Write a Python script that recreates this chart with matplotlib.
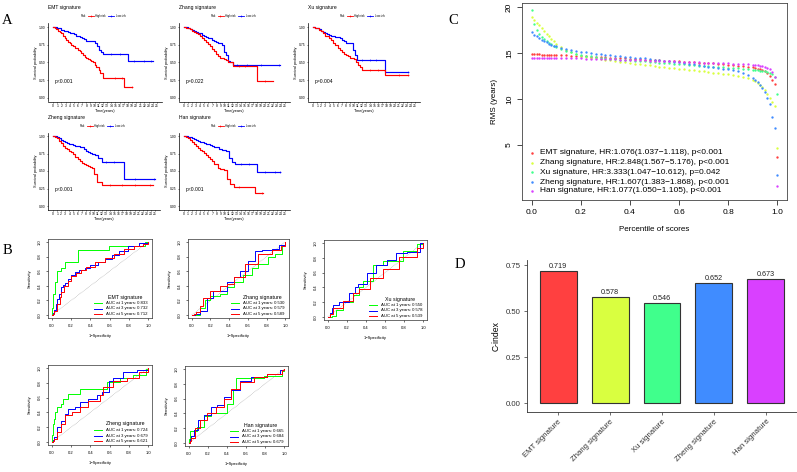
import matplotlib
matplotlib.use("Agg")
import matplotlib.pyplot as plt
from matplotlib.lines import Line2D

plt.rcParams['font.family'] = ['Liberation Sans', 'DejaVu Sans']
plt.rcParams['axes.linewidth'] = 0.5

# ---------------- DATA ----------------
# Panel A: Kaplan-Meier step curves (time in years, survival probability)
emt_hi_t = [0, 0.4, 0.8, 1.2, 1.6, 2.0, 2.4, 2.8, 3.2, 3.6, 4.0, 4.4, 4.8, 5.2, 5.6, 6.0, 6.4, 6.8, 7.2, 7.6, 8.0, 8.4, 8.8, 9.2, 9.6, 10.0, 10.4, 11.0, 11.4, 12.0, 17.2, 19.0]
emt_hi_s = [1.0, 0.99, 0.97, 0.95, 0.93, 0.91, 0.88, 0.85, 0.82, 0.79, 0.77, 0.75, 0.73, 0.71, 0.70, 0.68, 0.66, 0.64, 0.61, 0.58, 0.56, 0.555, 0.54, 0.52, 0.50, 0.47, 0.44, 0.40, 0.35, 0.28, 0.15, 0.15]
emt_lo_t = [0, 0.5, 1, 1.5, 2, 2.5, 3, 3.5, 4, 4.5, 5, 5.5, 6, 6.5, 7, 7.5, 8, 8.5, 9, 9.5, 10, 10.5, 11, 11.5, 12, 18, 24]
emt_lo_s = [1.0, 0.995, 0.99, 0.98, 0.96, 0.95, 0.94, 0.93, 0.92, 0.91, 0.90, 0.88, 0.87, 0.86, 0.84, 0.83, 0.81, 0.81, 0.80, 0.80, 0.78, 0.73, 0.68, 0.65, 0.62, 0.52, 0.52]
emt_hi_cens = [(15, 0.28), (16.5, 0.28), (19, 0.15)]
emt_lo_cens = [(14, 0.62), (16, 0.62), (19.5, 0.52), (22, 0.52), (23.5, 0.52)]

zhang_hi_t = [0, 0.5, 1, 1.5, 2, 2.5, 3, 3.5, 4, 4.5, 5, 5.5, 6, 6.5, 7, 7.5, 8, 8.5, 9, 9.5, 10, 10.5, 11, 11.5, 12.2, 18, 22]
zhang_hi_s = [1, 0.99, 0.98, 0.97, 0.95, 0.93, 0.91, 0.90, 0.88, 0.85, 0.82, 0.79, 0.76, 0.73, 0.69, 0.66, 0.62, 0.59, 0.57, 0.56, 0.55, 0.53, 0.50, 0.50, 0.45, 0.24, 0.24]
zhang_lo_t = [0, 0.5, 1, 1.5, 2, 2.5, 3, 3.5, 4, 4.5, 5, 5.5, 6, 6.5, 7, 7.5, 8, 8.5, 9, 9.5, 10, 10.5, 11, 11.5, 12.2, 23.8]
zhang_lo_s = [1, 0.995, 0.99, 0.97, 0.96, 0.94, 0.93, 0.92, 0.91, 0.89, 0.88, 0.86, 0.85, 0.84, 0.82, 0.81, 0.79, 0.77, 0.77, 0.74, 0.65, 0.60, 0.52, 0.50, 0.47, 0.47]
zhang_hi_cens = [(13.5, 0.45), (15, 0.45), (20, 0.24)]
zhang_lo_cens = [(13, 0.47), (15.5, 0.47), (19, 0.47), (23.5, 0.47)]

xu_hi_t = [0, 0.5, 1, 1.5, 2, 2.5, 3, 3.5, 4, 4.5, 5, 5.5, 6, 6.5, 7, 7.5, 8, 8.5, 9, 9.5, 10, 10.5, 11, 11.5, 12.1, 17.7, 23.4]
xu_hi_s = [1, 0.99, 0.98, 0.96, 0.94, 0.91, 0.88, 0.87, 0.85, 0.82, 0.78, 0.74, 0.71, 0.68, 0.65, 0.62, 0.60, 0.59, 0.57, 0.56, 0.55, 0.51, 0.47, 0.44, 0.39, 0.32, 0.32]
xu_lo_t = [0, 0.5, 1, 1.5, 2, 2.5, 3, 3.5, 4, 4.5, 5, 5.5, 6, 6.5, 7, 7.5, 8, 8.5, 9, 9.7, 10.3, 10.9, 17.7, 23.4]
xu_lo_s = [1, 0.99, 0.98, 0.97, 0.95, 0.93, 0.92, 0.90, 0.89, 0.88, 0.87, 0.86, 0.86, 0.84, 0.82, 0.80, 0.78, 0.77, 0.77, 0.68, 0.61, 0.54, 0.36, 0.36]
xu_hi_cens = [(14, 0.39), (16, 0.39), (21, 0.32), (23.4, 0.32)]
xu_lo_cens = [(12, 0.54), (14, 0.54), (15.5, 0.54), (23.4, 0.36)]

zheng_hi_t = [0, 0.5, 1, 1.5, 2, 2.5, 3, 3.5, 4, 4.5, 5, 5.5, 6, 6.5, 7, 7.5, 8, 8.5, 9, 9.5, 10, 10.7, 11.9, 24.6]
zheng_hi_s = [1, 0.99, 0.97, 0.93, 0.90, 0.86, 0.83, 0.81, 0.79, 0.77, 0.74, 0.70, 0.67, 0.64, 0.62, 0.60, 0.58, 0.57, 0.56, 0.54, 0.46, 0.345, 0.30, 0.30]
zheng_lo_t = [0, 0.5, 1, 1.5, 2, 2.5, 3, 3.5, 4, 4.5, 5, 5.5, 6, 6.5, 7, 7.5, 8, 8.5, 9, 9.5, 10.3, 11.1, 11.9, 17.3, 25]
zheng_lo_s = [1, 0.995, 0.99, 0.97, 0.95, 0.93, 0.91, 0.90, 0.89, 0.88, 0.87, 0.86, 0.86, 0.85, 0.84, 0.81, 0.78, 0.77, 0.76, 0.75, 0.73, 0.68, 0.63, 0.38, 0.38]
zheng_hi_cens = [(14, 0.30), (17, 0.30), (20, 0.30), (23.8, 0.30)]
zheng_lo_cens = [(13, 0.63), (15, 0.63), (20, 0.38), (24.7, 0.38)]

han_hi_t = [0, 0.5, 1, 1.5, 2, 2.5, 3, 3.5, 4, 4.5, 5, 5.5, 6, 6.5, 7, 7.5, 8.3, 9, 9.9, 10.7, 11.5, 12.3, 17.6, 19.6]
han_hi_s = [1, 0.99, 0.97, 0.95, 0.92, 0.89, 0.86, 0.83, 0.80, 0.78, 0.76, 0.73, 0.70, 0.67, 0.64, 0.60, 0.545, 0.53, 0.51, 0.39, 0.32, 0.27, 0.18, 0.18]
han_lo_t = [0, 0.5, 1, 1.5, 2, 2.5, 3, 3.5, 4, 4.5, 5, 5.5, 6, 6.5, 7, 7.5, 8, 8.7, 9.5, 10.3, 11.1, 11.9, 12.5, 18, 23.8]
han_lo_s = [1, 0.995, 0.99, 0.98, 0.97, 0.96, 0.94, 0.93, 0.92, 0.91, 0.90, 0.89, 0.88, 0.87, 0.86, 0.85, 0.84, 0.82, 0.80, 0.78, 0.68, 0.63, 0.60, 0.48, 0.48]
han_hi_cens = [(13.5, 0.27), (19.2, 0.18)]
han_lo_cens = [(14, 0.60), (16, 0.60), (20, 0.48), (22.5, 0.48), (23.8, 0.48)]

signatures = ["EMT signature", "Zhang signature", "Xu signature", "Zheng signature", "Han signature"]
km_pvalues = ["p<0.001", "p=0.022", "p=0.004", "p<0.001", "p<0.001"]
km_xticks = list(range(0, 26))
km_yticklabels = ["0.00", "0.25", "0.50", "0.75", "1.00"]

# Panel B: time-dependent ROC curves (1-specificity, sensitivity); order 1y, 3y, 5y
emt_roc1_x = [0, 0, 0.01, 0.03, 0.05, 0.09, 0.14, 0.27, 0.59, 0.97, 1.0]
emt_roc1_y = [0, 0.10, 0.29, 0.45, 0.60, 0.65, 0.73, 0.89, 0.95, 1.0, 1.0]
emt_roc3_x = [0, 0.01, 0.02, 0.04, 0.05, 0.07, 0.10, 0.12, 0.14, 0.17, 0.20, 0.24, 0.28, 0.34, 0.40, 0.48, 0.55, 0.62, 0.70, 0.79, 0.90, 1.0]
emt_roc3_y = [0, 0.03, 0.07, 0.15, 0.22, 0.29, 0.38, 0.41, 0.44, 0.50, 0.55, 0.59, 0.61, 0.64, 0.68, 0.73, 0.77, 0.82, 0.88, 0.95, 0.98, 1.0]
emt_roc5_x = [0, 0.01, 0.02, 0.05, 0.08, 0.10, 0.13, 0.17, 0.20, 0.25, 0.30, 0.35, 0.45, 0.55, 0.65, 0.75, 0.85, 0.95, 1.0]
emt_roc5_y = [0, 0.02, 0.05, 0.15, 0.25, 0.32, 0.40, 0.47, 0.53, 0.58, 0.62, 0.66, 0.72, 0.78, 0.84, 0.90, 0.94, 0.97, 1.0]

zhang_roc1_x = [0, 0.05, 0.09, 0.14, 0.20, 0.30, 0.375, 0.45, 0.55, 0.64, 0.71, 0.82, 0.89, 0.96, 1.0]
zhang_roc1_y = [0, 0.0, 0.10, 0.20, 0.26, 0.29, 0.38, 0.45, 0.55, 0.64, 0.70, 0.79, 0.83, 0.96, 1.0]
zhang_roc3_x = [0, 0.04, 0.09, 0.16, 0.23, 0.34, 0.375, 0.45, 0.52, 0.60, 0.68, 0.75, 0.86, 0.93, 1.0]
zhang_roc3_y = [0, 0.02, 0.06, 0.24, 0.33, 0.33, 0.45, 0.52, 0.60, 0.74, 0.87, 0.89, 0.91, 0.96, 1.0]
zhang_roc5_x = [0, 0.02, 0.05, 0.09, 0.125, 0.20, 0.30, 0.375, 0.45, 0.57, 0.71, 0.86, 0.95, 1.0]
zhang_roc5_y = [0, 0.02, 0.04, 0.13, 0.24, 0.33, 0.40, 0.42, 0.52, 0.70, 0.83, 0.89, 0.95, 1.0]

xu_roc1_x = [0, 0.04, 0.09, 0.16, 0.26, 0.33, 0.37, 0.47, 0.58, 0.72, 0.79, 0.93, 1.0]
xu_roc1_y = [0, 0.02, 0.10, 0.20, 0.30, 0.41, 0.49, 0.70, 0.76, 0.76, 0.89, 0.99, 1.0]
xu_roc3_x = [0, 0.02, 0.04, 0.05, 0.12, 0.22, 0.29, 0.32, 0.41, 0.51, 0.62, 0.72, 0.83, 0.97, 1.0]
xu_roc3_y = [0, 0.05, 0.12, 0.16, 0.20, 0.33, 0.41, 0.45, 0.59, 0.70, 0.77, 0.86, 0.88, 1.0, 1.0]
xu_roc5_x = [0, 0.02, 0.05, 0.16, 0.26, 0.33, 0.44, 0.58, 0.75, 0.93, 1.0]
xu_roc5_y = [0, 0.04, 0.12, 0.22, 0.32, 0.38, 0.53, 0.65, 0.81, 0.93, 1.0]

zheng_roc1_x = [0, 0, 0.01, 0.02, 0.03, 0.05, 0.09, 0.12, 0.17, 0.29, 0.53, 0.57, 0.71, 0.84, 0.98, 1.0]
zheng_roc1_y = [0, 0.10, 0.25, 0.31, 0.40, 0.47, 0.52, 0.58, 0.65, 0.72, 0.72, 0.81, 0.87, 0.90, 0.99, 1.0]
zheng_roc3_x = [0, 0.01, 0.02, 0.05, 0.09, 0.14, 0.17, 0.24, 0.29, 0.38, 0.47, 0.52, 0.59, 0.64, 0.74, 0.88, 1.0]
zheng_roc3_y = [0, 0.03, 0.07, 0.20, 0.29, 0.38, 0.45, 0.47, 0.54, 0.58, 0.63, 0.67, 0.83, 0.87, 0.94, 0.97, 1.0]
zheng_roc5_x = [0, 0.01, 0.02, 0.05, 0.10, 0.14, 0.21, 0.29, 0.38, 0.50, 0.53, 0.64, 0.78, 0.91, 1.0]
zheng_roc5_y = [0, 0.02, 0.04, 0.13, 0.25, 0.36, 0.40, 0.47, 0.56, 0.63, 0.74, 0.83, 0.87, 0.94, 1.0]

han_roc1_x = [0, 0, 0.01, 0.05, 0.09, 0.16, 0.23, 0.35, 0.40, 0.46, 0.49, 0.79, 0.98, 1.0]
han_roc1_y = [0, 0.05, 0.16, 0.16, 0.22, 0.36, 0.40, 0.40, 0.53, 0.71, 0.88, 0.90, 0.97, 1.0]
han_roc3_x = [0, 0.01, 0.02, 0.05, 0.10, 0.16, 0.23, 0.30, 0.37, 0.44, 0.54, 0.65, 0.82, 0.96, 1.0]
han_roc3_y = [0, 0.05, 0.09, 0.18, 0.31, 0.38, 0.49, 0.51, 0.62, 0.71, 0.84, 0.89, 0.93, 0.98, 1.0]
han_roc5_x = [0, 0.01, 0.02, 0.07, 0.12, 0.19, 0.28, 0.37, 0.44, 0.54, 0.68, 0.82, 0.98, 1.0]
han_roc5_y = [0, 0.03, 0.07, 0.20, 0.31, 0.40, 0.49, 0.60, 0.73, 0.82, 0.89, 0.93, 0.99, 1.0]

roc_aucs = [[0.833, 0.732, 0.712], [0.530, 0.579, 0.589], [0.550, 0.578, 0.539],
            [0.724, 0.679, 0.621], [0.665, 0.684, 0.679]]
roc_years = [1, 3, 5]
roc_ticks = [0.0, 0.2, 0.4, 0.6, 0.8, 1.0]
roc_ticklabels = ["0.0", "0.2", "0.4", "0.6", "0.8", "1.0"]

# Panel C: RMS curves (percentile of scores vs RMS in years)
rms_pct = [0.00, 0.01, 0.02, 0.03, 0.04, 0.05, 0.06, 0.07, 0.08, 0.09, 0.10,
           0.12, 0.14, 0.16, 0.18, 0.20, 0.22, 0.24, 0.26, 0.28, 0.30, 0.32, 0.34, 0.36, 0.38, 0.40,
           0.42, 0.44, 0.46, 0.48, 0.50, 0.52, 0.54, 0.56, 0.58, 0.60, 0.62, 0.64, 0.66, 0.68, 0.70,
           0.72, 0.74, 0.76, 0.78, 0.80, 0.82, 0.84, 0.86, 0.88, 0.90,
           0.91, 0.92, 0.93, 0.94, 0.95, 0.96, 0.97, 0.98, 0.99, 1.00]
rms_emt = [14.85, 14.84, 14.84, 14.83, 14.82, 14.81, 14.80, 14.80, 14.79, 14.78, 14.77,
           14.75, 14.73, 14.71, 14.69, 14.67, 14.64, 14.61, 14.58, 14.55, 14.52, 14.49, 14.46, 14.43, 14.40, 14.37,
           14.34, 14.31, 14.28, 14.25, 14.22, 14.19, 14.16, 14.13, 14.10, 14.07, 14.04, 14.01, 13.98, 13.95, 13.92,
           13.89, 13.85, 13.81, 13.77, 13.73, 13.68, 13.63, 13.57, 13.50, 13.42,
           13.37, 13.30, 13.22, 13.12, 12.98, 12.78, 12.50, 12.10, 11.60, 3.70]
rms_zhang = [18.90, 18.60, 18.30, 18.00, 17.70, 17.40, 17.10, 16.80, 16.50, 16.25, 16.00,
             15.60, 15.30, 15.05, 14.85, 14.70, 14.58, 14.48, 14.40, 14.32, 14.25, 14.18, 14.11, 14.04, 13.97, 13.90,
             13.83, 13.76, 13.70, 13.64, 13.58, 13.52, 13.46, 13.40, 13.34, 13.28, 13.22, 13.16, 13.10, 13.04, 12.98,
             12.92, 12.86, 12.80, 12.73, 12.66, 12.58, 12.50, 12.40, 12.25, 12.05,
             11.90, 11.70, 11.50, 11.25, 10.95, 10.55, 10.15, 9.70, 9.20, 4.70]
rms_xu = [19.70, 18.10, 17.50, 17.05, 16.75, 16.50, 16.28, 16.08, 15.92, 15.77, 15.63,
          15.40, 15.20, 15.05, 14.92, 14.81, 14.71, 14.63, 14.56, 14.49, 14.43, 14.38, 14.33, 14.28, 14.23, 14.19,
          14.15, 14.11, 14.07, 14.03, 13.99, 13.95, 13.91, 13.87, 13.83, 13.79, 13.75, 13.71, 13.67, 13.63, 13.59,
          13.55, 13.51, 13.47, 13.43, 13.39, 13.35, 13.31, 13.27, 13.22, 13.17,
          13.14, 13.11, 13.07, 13.03, 12.98, 12.91, 12.82, 12.67, 12.40, 10.50]
rms_zheng = [17.30, 17.00, 16.80, 16.60, 16.45, 16.30, 16.15, 16.02, 15.90, 15.80, 15.70,
             15.55, 15.42, 15.31, 15.21, 15.13, 15.05, 14.98, 14.92, 14.86, 14.80, 14.75, 14.70, 14.65, 14.60, 14.55,
             14.50, 14.45, 14.40, 14.34, 14.28, 14.22, 14.16, 14.10, 14.03, 13.96, 13.89, 13.82, 13.75, 13.68, 13.60,
             13.52, 13.44, 13.36, 13.28, 13.20, 13.10, 12.98, 12.82, 12.60, 12.30,
             12.10, 11.85, 11.55, 11.20, 10.80, 10.10, 9.40, 8.00, 6.80, 1.70]
rms_han = [14.50, 14.50, 14.49, 14.49, 14.48, 14.48, 14.47, 14.47, 14.46, 14.46, 14.45,
           14.44, 14.43, 14.42, 14.41, 14.40, 14.39, 14.37, 14.36, 14.34, 14.33, 14.31, 14.30, 14.28, 14.26, 14.25,
           14.23, 14.21, 14.19, 14.17, 14.15, 14.13, 14.11, 14.09, 14.07, 14.05, 14.03, 14.01, 13.99, 13.97, 13.95,
           13.93, 13.91, 13.89, 13.87, 13.85, 13.82, 13.80, 13.77, 13.74, 13.71,
           13.69, 13.66, 13.62, 13.57, 13.50, 13.40, 13.20, 12.90, 12.40, 0.50]
rms_legend = ["EMT signature, HR:1.076(1.037\u22121.118), p<0.001",
              "Zhang signature, HR:2.848(1.567\u22125.176), p<0.001",
              "Xu signature, HR:3.333(1.047\u221210.612), p=0.042",
              "Zheng signature, HR:1.607(1.383\u22121.868), p<0.001",
              "Han signature, HR:1.077(1.050\u22121.105), p<0.001"]
rms_xticks = [0.0, 0.2, 0.4, 0.6, 0.8, 1.0]
rms_yticks = [5, 10, 15, 20]

# Panel D: C-index
cindex = [0.719, 0.578, 0.546, 0.652, 0.673]
cindex_yticks = [0.00, 0.25, 0.50, 0.75]

sig_colors = ["#FF4040", "#D9FF40", "#40FF8C", "#408CFF", "#D940FF"]

# ---------------- FIGURE ----------------
W, H, DPI = 797, 472, 100
fig = plt.figure(figsize=(W / DPI, H / DPI), dpi=DPI)
fig.patch.set_facecolor("white")


def axes_px(l, t, r, b):
    return fig.add_axes([l / W, 1 - b / H, (r - l) / W, (b - t) / H])


def ftext(x, y, s, **kw):
    return fig.text(x / W, 1 - y / H, s, **kw)


def fline(x0, x1, y, color, lw=0.6, marker=None):
    ln = Line2D([x0 / W, x1 / W], [1 - y / H, 1 - y / H], color=color, lw=lw,
                transform=fig.transFigure)
    fig.add_artist(ln)
    if marker:
        mk = Line2D([(x0 + x1) / 2 / W], [1 - y / H], color=color, marker=marker,
                    ms=1.6, mew=0.4, ls="none", transform=fig.transFigure)
        fig.add_artist(mk)


# ---- Panel A: KM curves ----
km_data = [
    (emt_hi_t, emt_hi_s, emt_lo_t, emt_lo_s, emt_hi_cens, emt_lo_cens),
    (zhang_hi_t, zhang_hi_s, zhang_lo_t, zhang_lo_s, zhang_hi_cens, zhang_lo_cens),
    (xu_hi_t, xu_hi_s, xu_lo_t, xu_lo_s, xu_hi_cens, xu_lo_cens),
    (zheng_hi_t, zheng_hi_s, zheng_lo_t, zheng_lo_s, zheng_hi_cens, zheng_lo_cens),
    (han_hi_t, han_hi_s, han_lo_t, han_lo_s, han_hi_cens, han_lo_cens),
]
km_rects = [(48, 23.5, 162, 101.5), (179, 23.5, 290, 101.5), (308, 23.5, 420, 101.5),
            (48, 132.5, 160, 209.5), (179, 132.5, 290, 209.5)]
km_title_y = [7, 7, 7, 117, 117]
km_leg_y = [16, 16, 16, 126, 126]

for i, (d, rect) in enumerate(zip(km_data, km_rects)):
    ht, hs, lt, ls_, hc, lc = d
    l, t, r, b = rect
    ax = axes_px(l, t, r, b)
    ax.step(lt, ls_, where="post", color="#0000FF", lw=0.85)
    ax.step(ht, hs, where="post", color="#FF0000", lw=0.85)
    ax.plot([c[0] for c in lc], [c[1] for c in lc], "+", color="#0000FF", ms=1.8, mew=0.4)
    ax.plot([c[0] for c in hc], [c[1] for c in hc], "+", color="#FF0000", ms=1.8, mew=0.4)
    ax.set_xlim(-1.25, 26.25)
    ax.set_ylim(-0.05, 1.05)
    ax.set_xticks(km_xticks)
    ax.set_xticklabels([str(v) for v in km_xticks])
    ax.set_yticks([0, 0.25, 0.5, 0.75, 1.0])
    ax.set_yticklabels(km_yticklabels)
    for s in ["top", "right"]:
        ax.spines[s].set_visible(False)
    for s in ["left", "bottom"]:
        ax.spines[s].set_linewidth(0.5)
    ax.tick_params(labelsize=2.4, length=1.0, width=0.4, pad=0.6, colors="black")
    ax.set_xlabel("Time(years)", fontsize=2.8, labelpad=0.8)
    ax.set_ylabel("Survival probability", fontsize=2.8, labelpad=0.8)
    ax.text(0.3, 0.23, km_pvalues[i], fontsize=3.6, ha="left", va="center")
    ftext(l, km_title_y[i], signatures[i], fontsize=3.6, ha="left", va="center")
    c = (l + r) / 2
    yy = km_leg_y[i]
    ftext(c - 24, yy, "Risk", fontsize=2.0, ha="left", va="center")
    fline(c - 17, c - 11, yy, "#FF0000", marker="+")
    ftext(c - 10, yy, "High risk", fontsize=2.0, ha="left", va="center")
    fline(c + 3, c + 9, yy, "#0000FF", marker="+")
    ftext(c + 11, yy, "Low risk", fontsize=2.0, ha="left", va="center")

# ---- Panel B: ROC curves ----
roc_data = [
    [(emt_roc1_x, emt_roc1_y), (emt_roc3_x, emt_roc3_y), (emt_roc5_x, emt_roc5_y)],
    [(zhang_roc1_x, zhang_roc1_y), (zhang_roc3_x, zhang_roc3_y), (zhang_roc5_x, zhang_roc5_y)],
    [(xu_roc1_x, xu_roc1_y), (xu_roc3_x, xu_roc3_y), (xu_roc5_x, xu_roc5_y)],
    [(zheng_roc1_x, zheng_roc1_y), (zheng_roc3_x, zheng_roc3_y), (zheng_roc5_x, zheng_roc5_y)],
    [(han_roc1_x, han_roc1_y), (han_roc3_x, han_roc3_y), (han_roc5_x, han_roc5_y)],
]
roc_rects = [(48, 239, 152, 318), (188, 239, 289, 318), (324, 240, 427, 320),
             (48, 365, 152, 445), (185, 366, 288, 446)]
roc_colors = ["#00FF00", "#0000FF", "#FF0000"]

for i, (curves, rect) in enumerate(zip(roc_data, roc_rects)):
    l, t, r, b = rect
    ax = axes_px(l, t, r, b)
    ax.plot([0, 1], [0, 1], ls=(0, (1, 1.5)), color="#888888", lw=0.4)
    for (fx, fy), col in zip(curves, roc_colors):
        ax.plot(fx, fy, drawstyle="steps-post", color=col, lw=0.7)
    ax.set_xlim(-0.04, 1.04)
    ax.set_ylim(-0.04, 1.04)
    ax.set_xticks(roc_ticks)
    ax.set_xticklabels(roc_ticklabels)
    ax.set_yticks(roc_ticks)
    ax.set_yticklabels(roc_ticklabels, rotation=90, va="center")
    for s in ax.spines.values():
        s.set_linewidth(0.5)
        s.set_color("#333333")
    ax.tick_params(labelsize=3.0, length=1.5, width=0.4, pad=3.0)
    ax.set_xlabel("1\u2212Specificity", fontsize=3.0, labelpad=4.0)
    ax.set_ylabel("Sensitivity", fontsize=3.0, labelpad=4.0)
    # legend
    ftext(r - 27, b - 21, signatures[i], fontsize=3.8, ha="center", va="center")
    for k in range(3):
        yy = b - 15 + k * 5.5
        fline(r - 58, r - 50, yy, roc_colors[k], lw=0.7)
        ftext(r - 46, yy, "AUC at %d years: %.3f" % (roc_years[k], roc_aucs[i][k]),
              fontsize=3.1, ha="left", va="center")

# ---- Panel C: RMS curves ----
axC = axes_px(522, 3, 787, 200)
rms_series = [rms_emt, rms_zhang, rms_xu, rms_zheng, rms_han]
for vals, col in zip(rms_series, sig_colors):
    axC.plot(rms_pct, vals, "o", ms=1.7, color=col, mec="none")
axC.set_xlim(-0.04, 1.04)
axC.set_ylim(-1.0, 20.43)
axC.set_xticks(rms_xticks)
axC.set_xticklabels(["%.1f" % v for v in rms_xticks])
axC.set_yticks(rms_yticks)
axC.set_yticklabels([str(v) for v in rms_yticks], rotation=90, va="center")
for s in axC.spines.values():
    s.set_linewidth(0.6)
    s.set_color("#444444")
axC.tick_params(labelsize=6, length=3.5, width=0.5, pad=3)
axC.set_xlabel("Percentile of scores", fontsize=5.8, labelpad=7)
axC.set_ylabel("RMS (years)", fontsize=5.8, labelpad=6)
leg_rows = [0.239, 0.188, 0.140, 0.091, 0.046]
for k in range(5):
    axC.plot([0.038], [leg_rows[k]], "o", ms=1.8, color=sig_colors[k], mec="none",
             transform=axC.transAxes, clip_on=False)
    axC.text(0.068, leg_rows[k], rms_legend[k], transform=axC.transAxes,
             fontsize=6.0, ha="left", va="center")

# ---- Panel D: C-index bars ----
axD = axes_px(527, 260, 797, 412)
xs = list(range(len(cindex)))
axD.bar(xs, cindex, width=0.71, color=sig_colors, edgecolor="#333333", lw=0.8)
for x, v in zip(xs, cindex):
    axD.text(x, v + 0.006, "%.3f" % v, ha="center", va="bottom", fontsize=5.2, color="#222222")
axD.set_xlim(-0.6, 4.6)
axD.set_ylim(-0.049, 0.779)
axD.set_xticks(xs)
axD.set_xticklabels(signatures, rotation=45, ha="right", rotation_mode="anchor")
axD.set_yticks(cindex_yticks)
axD.set_yticklabels(["%.2f" % v for v in cindex_yticks])
for s in ["top", "right"]:
    axD.spines[s].set_visible(False)
for s in ["left", "bottom"]:
    axD.spines[s].set_linewidth(0.6)
    axD.spines[s].set_color("#333333")
axD.tick_params(labelsize=5.6, length=2.5, width=0.5, pad=2, colors="#333333")
axD.set_ylabel("C-index", fontsize=6.2, labelpad=4)

# ---- Panel letters ----
for letter, (x, y) in zip("ABCD", [(7, 20), (7, 251), (453, 20), (460, 264)]):
    ftext(x, y, letter, fontsize=10.5, ha="center", va="center",
          family=["Liberation Serif", "DejaVu Serif"])

fig.savefig("out.png", dpi=DPI, facecolor="white")
